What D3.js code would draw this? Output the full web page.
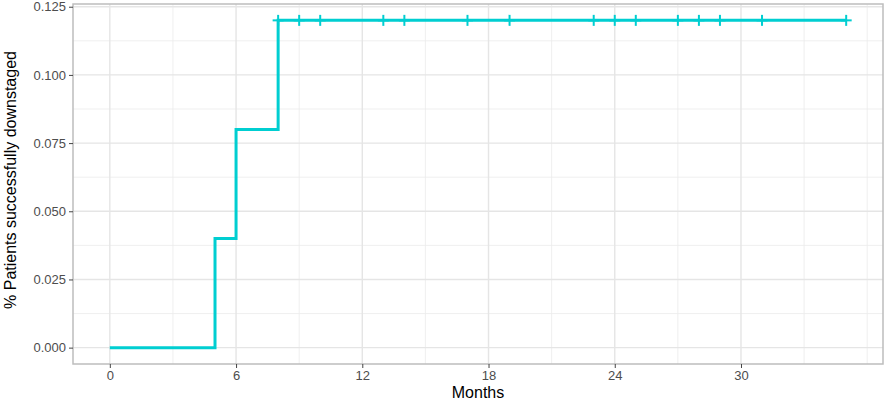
<!DOCTYPE html>
<html>
<head>
<meta charset="utf-8">
<script src="https://cdn.jsdelivr.net/npm/d3@7"></script>
<style>
  body { margin: 0; background: #fff; }
  svg { display: block; font-family: "Liberation Sans", Arial, sans-serif; }
</style>
</head>
<body>
<svg id="chart" width="886" height="402"></svg>
<script>
// step times (months) and cumulative proportion downstaged
var stepTimes = [0, 5, 6, 8, 35];
var stepValues = [0, 0.04, 0.08, 0.12, 0.12];
// censored observations (months)
var censorTimes = [8, 9, 10, 13, 14, 17, 19, 23, 24, 25, 27, 28, 29, 31, 35];
var xTicks = [0, 6, 12, 18, 24, 30];
var xMinor = [3, 9, 15, 21, 27, 33, 36];
var yTicks = [0, 0.025, 0.05, 0.075, 0.1, 0.125];
var yMinor = [0.0125, 0.0375, 0.0625, 0.0875, 0.1125];

var svg = d3.select("#chart");
var margin = { top: 4, right: 3, bottom: 38, left: 73 },
    width = 886 - margin.left - margin.right,
    height = 402 - margin.top - margin.bottom;

var x = d3.scaleLinear().domain([-1.75, 36.75]).range([0, width]);
var y = d3.scaleLinear().domain([-0.006, 0.126]).range([height, 0]);

var g = svg.append("g").attr("transform", "translate(" + margin.left + "," + margin.top + ")");

// grid
g.selectAll(".xminor").data(xMinor).enter().append("line")
    .attr("x1", function(d) { return x(d); }).attr("x2", function(d) { return x(d); })
    .attr("y1", 0).attr("y2", height)
    .attr("stroke", "#ebebeb").attr("stroke-width", 0.8);
g.selectAll(".yminor").data(yMinor).enter().append("line")
    .attr("y1", function(d) { return y(d); }).attr("y2", function(d) { return y(d); })
    .attr("x1", 0).attr("x2", width)
    .attr("stroke", "#ebebeb").attr("stroke-width", 0.8);
g.selectAll(".xmajor").data(xTicks).enter().append("line")
    .attr("x1", function(d) { return x(d); }).attr("x2", function(d) { return x(d); })
    .attr("y1", 0).attr("y2", height)
    .attr("stroke", "#e5e5e5").attr("stroke-width", 1.4);
g.selectAll(".ymajor").data(yTicks).enter().append("line")
    .attr("y1", function(d) { return y(d); }).attr("y2", function(d) { return y(d); })
    .attr("x1", 0).attr("x2", width)
    .attr("stroke", "#e5e5e5").attr("stroke-width", 1.4);

// step line
var pts = stepTimes.map(function(t, i) { return [t, stepValues[i]]; });
var line = d3.line()
    .x(function(d) { return x(d[0]); })
    .y(function(d) { return y(d[1]); })
    .curve(d3.curveStepAfter);
g.append("path").datum(pts)
    .attr("d", line)
    .attr("fill", "none")
    .attr("stroke", "#00CED1")
    .attr("stroke-width", 3);

// censor marks
function survAt(t) {
  var v = 0;
  for (var i = 0; i < stepTimes.length; i++) if (stepTimes[i] <= t) v = stepValues[i];
  return v;
}
var cs = g.selectAll(".censor").data(censorTimes).enter().append("g")
    .attr("transform", function(d) { return "translate(" + x(d) + "," + y(survAt(d)) + ")"; });
cs.append("line").attr("x1", -5.5).attr("x2", 5.5).attr("y1", 0).attr("y2", 0)
    .attr("stroke", "#00CED1").attr("stroke-width", 2);
cs.append("line").attr("x1", 0).attr("x2", 0).attr("y1", -5.5).attr("y2", 5.5)
    .attr("stroke", "#00CED1").attr("stroke-width", 2);

// panel border
g.append("rect").attr("x", 0).attr("y", 0).attr("width", width).attr("height", height)
    .attr("fill", "none").attr("stroke", "#bdbdbd").attr("stroke-width", 1.5);

// axes
var xAxis = g.append("g").attr("transform", "translate(0," + height + ")")
    .call(d3.axisBottom(x).tickValues(xTicks).tickSize(4).tickPadding(3).tickFormat(d3.format("d")));
var yAxis = g.append("g")
    .call(d3.axisLeft(y).tickValues(yTicks).tickSize(4).tickPadding(3).tickFormat(d3.format(".3f")));
[xAxis, yAxis].forEach(function(a) {
  a.select(".domain").remove();
  a.selectAll(".tick line").attr("stroke", "#444").attr("stroke-width", 1);
  a.selectAll(".tick text").attr("fill", "#4d4d4d").style("font-size", "13px")
    .style("font-family", "Liberation Sans, Arial, sans-serif");
});

// titles
svg.append("text")
    .attr("x", margin.left + width / 2).attr("y", 398)
    .attr("text-anchor", "middle")
    .style("font-size", "16px").attr("fill", "#000")
    .text("Months");
svg.append("text")
    .attr("transform", "translate(16," + (margin.top + height / 2 - 4) + ") rotate(-90)")
    .attr("text-anchor", "middle")
    .style("font-size", "16px").attr("fill", "#000")
    .text("% Patients successfully downstaged");
</script>
</body>
</html>
